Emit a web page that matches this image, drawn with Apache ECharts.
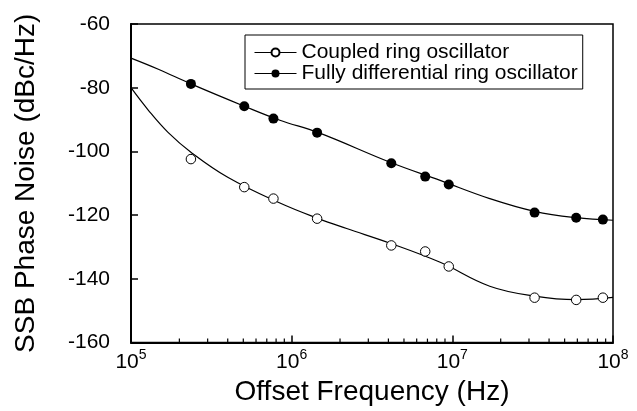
<!DOCTYPE html>
<html>
<head>
<meta charset="utf-8">
<script src="https://cdn.jsdelivr.net/npm/echarts@6/dist/echarts.min.js"></script>
<style>
  html, body { margin: 0; padding: 0; background: #fff; }
  #main { width: 637px; height: 411px; }
</style>
</head>
<body>
<div id="main"></div>
<script>
// measured points (offset frequency in Hz, phase noise in dBc/Hz)
var freqs = [2.36e5, 5.07e5, 7.7e5, 1.44e6, 4.17e6, 6.78e6, 9.5e6, 3.25e7, 5.9e7, 8.65e7];
var coupled = [-102.4, -111.2, -114.8, -121.1, -129.5, -131.4, -136.1, -145.9, -146.6, -145.9];
var fullyDiff = [-78.8, -85.8, -89.7, -94.1, -103.7, -107.9, -110.4, -119.2, -120.8, -121.4];

// fitted curves
var fitFullyFreq = [1e5, 1.48e5, 2.36e5, 5.07e5, 8.45e5, 1.47e6, 4.1e6, 8.4e6, 1.71e7, 3.25e7, 5.9e7, 1e8];
var fitFullyVal = [-70.7, -74.2, -78.8, -85.8, -90.2, -94.1, -103.4, -109.1, -114.8, -118.8, -120.8, -121.6];
var fitCoupledFreq = [1e5, 1.28e5, 1.7e5, 2.37e5, 4.0e5, 8.45e5, 1.47e6, 2.2e6, 4.1e6, 8.4e6, 1.71e7, 3.25e7, 5.9e7, 1e8];
var fitCoupledVal = [-80.0, -87.0, -94.0, -100.3, -108.1, -116.2, -121.1, -124.2, -128.8, -134.8, -142.3, -145.4, -146.5, -145.8];

var yMin = -160, yMax = -60;
var font = 'Liberation Sans, Arial, sans-serif';

function pairs(xs, ys) {
	var out = [];
	for (var i = 0; i < xs.length; i++) out.push([xs[i], ys[i]]);
	return out;
}

// minor ticks 2..9 per decade
var minorTicks = [];
for (var d = 5; d < 8; d++) {
	for (var k = 2; k <= 9; k++) minorTicks.push([k * Math.pow(10, d), yMin]);
}

var myChart = echarts.init(document.getElementById('main'));
myChart.setOption({
	animation: false,
	backgroundColor: '#fff',
	textStyle: { fontFamily: font, color: '#000' },
	grid: {
		left: 131, right: 24, top: 24, bottom: 66,
		show: true, borderColor: '#000', borderWidth: 1.5
	},
	legend: {
		orient: 'vertical', left: 245, top: 35,
		padding: [7, 5, 5, 9], itemGap: 0,
		itemWidth: 42, itemHeight: 10,
		borderColor: '#000', borderWidth: 1,
		textStyle: { fontSize: 21, color: '#000', fontFamily: font },
		lineStyle: { color: '#000', width: 1, opacity: 1, type: 'solid' },
		data: ['Coupled ring oscillator', 'Fully differential ring oscillator']
	},
	xAxis: {
		type: 'log', logBase: 10, min: 1e5, max: 1e8,
		name: 'Offset Frequency (Hz)', nameLocation: 'middle', nameGap: 34,
		nameTextStyle: { fontSize: 28, color: '#000', fontFamily: font },
		axisLine: { lineStyle: { color: '#000', width: 2 } },
		axisTick: { inside: true, length: 7, lineStyle: { color: '#000', width: 1.5 } },
		splitLine: { show: false },
		axisLabel: {
			margin: 6, showMinLabel: true, showMaxLabel: true,
			formatter: function (v) {
				return '{b|10}{s|' + Math.round(Math.log10(v)) + '}';
			},
			rich: {
				b: { fontSize: 21, color: '#000', fontFamily: font },
				s: { fontSize: 14, color: '#000', fontFamily: font, padding: [0, 0, 14, 0] }
			}
		}
	},
	yAxis: {
		type: 'value', min: yMin, max: yMax, interval: 20,
		name: 'SSB Phase Noise (dBc/Hz)', nameLocation: 'middle', nameGap: 91,
		nameTextStyle: { fontSize: 28, color: '#000', fontFamily: font },
		axisLine: { show: true, lineStyle: { color: '#000', width: 2 } },
		axisTick: { inside: true, length: 7, lineStyle: { color: '#000', width: 1.5 } },
		splitLine: { show: false },
		axisLabel: { fontSize: 21, color: '#000', margin: 21, fontFamily: font }
	},
	series: [
		{
			name: 'fitFully', type: 'line', smooth: 0.4, symbol: 'none',
			data: pairs(fitFullyFreq, fitFullyVal),
			lineStyle: { color: '#000', width: 1.2 }, silent: true
		},
		{
			name: 'fitCoupled', type: 'line', smooth: 0.4, symbol: 'none',
			data: pairs(fitCoupledFreq, fitCoupledVal),
			lineStyle: { color: '#000', width: 1.2 }, silent: true
		},
		{
			name: 'Coupled ring oscillator', type: 'line',
			data: pairs(freqs, coupled),
			symbol: 'circle', symbolSize: 9.5, showAllSymbol: true,
			lineStyle: { opacity: 0 },
			itemStyle: { color: '#fff', borderColor: '#000', borderWidth: 1 },
			z: 5
		},
		{
			name: 'Fully differential ring oscillator', type: 'line',
			data: pairs(freqs, fullyDiff),
			symbol: 'circle', symbolSize: 10, showAllSymbol: true,
			lineStyle: { opacity: 0 },
			itemStyle: { color: '#000', borderColor: '#000', borderWidth: 0 },
			z: 5
		},
		{
			name: 'minorTicks', type: 'custom', silent: true,
			data: minorTicks,
			clip: false,
			renderItem: function (params, api) {
				var p = api.coord([api.value(0), api.value(1)]);
				return {
					type: 'line',
					shape: { x1: p[0], y1: p[1], x2: p[0], y2: p[1] - 4 },
					style: { stroke: '#000', lineWidth: 1.2 }
				};
			}
		}
	]
});
</script>
</body>
</html>
